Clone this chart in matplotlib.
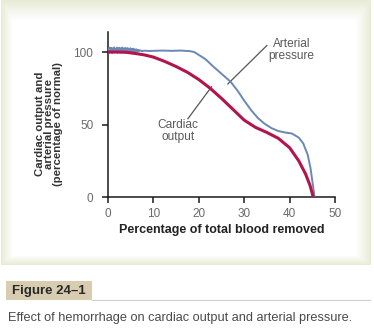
import numpy as np
import matplotlib
matplotlib.use('Agg')
import matplotlib.pyplot as plt
from matplotlib.patches import Rectangle
from matplotlib.lines import Line2D

# Blood removed (%) vs. cardiac output and arterial pressure (% of normal)
co_x = [0, 2, 4, 6, 8, 10, 12.5, 15, 17.5, 20, 22.5, 25, 27.5, 30,
        32.5, 35, 37.5, 40, 42, 43.5, 44.5, 45.2]
co_y = [100, 100, 99.8, 99, 98, 96.5, 93.5, 90, 86, 81, 75, 68, 60.5, 53,
        48, 44.5, 40.5, 34, 25, 16, 8, 0]

# arterial pressure trace is jittery over the first few percent
ap_x = [0, 0.15, 0.3, 0.45, 0.6, 0.75, 0.9, 1.05, 1.2, 1.35, 1.5, 1.65,
        1.8, 1.95, 2.1, 2.25, 2.4, 2.55, 2.7, 2.85, 3.0, 3.15, 3.3, 3.45,
        3.6, 3.75, 3.9, 4.05, 4.2, 4.35, 4.5, 4.65, 4.8, 4.95, 5.1, 5.25,
        5.4, 5.55, 5.7, 5.85, 6.0, 6.2, 6.4, 6.6, 6.8, 7.0, 7.5, 8,
        9, 10, 12, 14, 16, 18, 19, 20, 21.5, 23, 25, 27, 28.5, 30, 31.5,
        33, 34.5, 36, 37.5, 39, 40.5, 42, 43, 44, 44.6, 45.1, 45.5]
ap_y = [100, 102.5, 99.5, 103, 100, 102.8, 99.2, 102.5, 100.4, 103.2,
        99.6, 102.2, 100, 103, 99.4, 102.6, 100.2, 102.9, 99.5, 102.4,
        100.3, 103.1, 99.7, 102.3, 100.1, 102.8, 99.6, 102.5, 100.4,
        102.7, 99.8, 102.2, 100.2, 102.6, 99.9, 102, 100.5, 102.3, 100,
        101.8, 100.4, 101.9, 100.2, 101.5, 100.5, 101.2, 100.6, 100.9,
        100.7, 100.8, 101, 100.8, 101, 100.6, 100, 98, 95, 90.5, 85, 79.5,
        73.5, 66.5, 60, 54.5, 50.5, 47.5, 45.5, 44.5, 43.8, 41, 37, 29, 20,
        9, 0]

x_ticks = [0, 10, 20, 30, 40, 50]
y_ticks = [0, 50, 100]

W, H = 374, 330
fig = plt.figure(figsize=(W / 100, H / 100), dpi=100)
plt.rcParams['font.family'] = ['Liberation Sans', 'DejaVu Sans']

# Soft beige panel behind the chart
bg = fig.add_axes([0, 0, 1, 1])
bg.set_axis_off()
yy, xx = np.mgrid[0:H, 0:W].astype(float)
beige = np.array([0.91, 0.925, 0.84])
white = np.array([1.0, 1.0, 1.0])
inside = (xx >= 1) & (xx <= 370) & (yy <= 264)
d = np.minimum.reduce([(xx - 1) / 11, (370 - xx) / 15, yy / 20, (264 - yy) / 9])
t = np.clip(d, 0, 1)[..., None]
img = np.ones((H, W, 3))
panel = beige * (1 - t) + white * t
img[inside] = panel[inside]
bg.imshow(img, extent=[0, W, H, 0], aspect='auto', interpolation='bilinear')
bg.set_xlim(0, W)
bg.set_ylim(H, 0)

# Caption block
bg.add_patch(Rectangle((6, 281), 86, 19, facecolor='#d8cdb0', edgecolor='none'))
bg.add_line(Line2D([92, 370], [300, 300], color='#d0d0d0', linewidth=0.8))
bg.text(49, 291, 'Figure 24\u20131', fontsize=9.5, fontweight='bold',
        color='#2a2a2a', ha='center', va='center')
bg.text(8, 318, 'Effect of hemorrhage on cardiac output and arterial pressure.',
        fontsize=9.2, color='#4a4a4a', ha='left', va='center')

# y label sits a little below the axes centre
bg.text(49, 124, 'Cardiac output and\narterial pressure\n(percentage of normal)',
        fontsize=8.2, fontweight='bold', color='#333333', rotation=90,
        ha='center', va='center', multialignment='center', linespacing=0.85)

# Main plot
ax = fig.add_axes([108 / W, 1 - 197 / H, 227 / W, 165 / H])
ax.patch.set_alpha(0)
ax.set_xlim(0, 50)
ax.set_ylim(0, 113.8)
for s in ['top', 'right']:
    ax.spines[s].set_visible(False)
for s in ['left', 'bottom']:
    ax.spines[s].set_color('#1a1a1a')
    ax.spines[s].set_linewidth(1.1)
ax.set_xticks(x_ticks)
ax.set_yticks(y_ticks)
ax.tick_params(length=4.5, width=1.1, color='#1a1a1a', labelcolor='#6a6a6a',
               labelsize=8.5)
ax.tick_params(axis='y', pad=6)
ax.tick_params(axis='x', pad=3.5)

ax.plot(ap_x, ap_y, color='#6a88b2', linewidth=1.4, zorder=3)
ax.plot(co_x, co_y, color='#b3144b', linewidth=2.2, zorder=4)

# Leader lines and labels
ax.plot([35, 26.4], [104.5, 78], color='#555555', linewidth=0.9)
ax.text(40.4, 101.5, 'Arterial\npressure', fontsize=8.6, color='#5a5a5a',
        ha='center', va='center', linespacing=1.05)
ax.plot([17.6, 22.8], [54, 76], color='#555555', linewidth=0.9)
ax.text(15.5, 45.5, 'Cardiac\noutput', fontsize=8.6, color='#5a5a5a',
        ha='center', va='center', linespacing=1.05)

ax.set_xlabel('Percentage of total blood removed', fontsize=9,
              fontweight='bold', color='#222222', labelpad=3)

fig.savefig('out.png', dpi=100)
